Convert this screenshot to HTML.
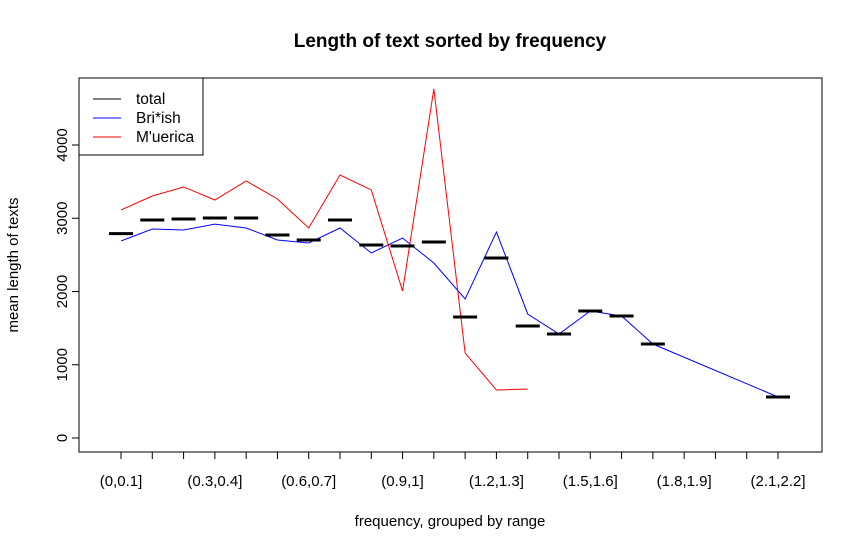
<!DOCTYPE html>
<html><head><meta charset="utf-8"><style>
body{margin:0;background:#fff;}
svg{display:block;font-family:"Liberation Sans",Arial,sans-serif;}
</style></head><body>
<svg id="chart" width="862" height="550" viewBox="0 0 862 550" xmlns="http://www.w3.org/2000/svg">
<rect width="862" height="550" fill="#fff"/>
<text x="450" y="47" text-anchor="middle" font-size="19" font-weight="bold">Length of text sorted by frequency</text>
<rect x="79" y="78" width="743" height="374" fill="none" stroke="#000" stroke-width="1"/>
<text x="450" y="526" text-anchor="middle" font-size="15">frequency, grouped by range</text>
<text transform="translate(18,265) rotate(-90)" text-anchor="middle" font-size="15">mean length of texts</text>
<g id="axes"></g>
<g id="marks"></g>
<g>
<rect x="79" y="78" width="124" height="77" fill="#fff" stroke="#000"/>
<line x1="93" y1="99" x2="121" y2="99" stroke="#000"/>
<text x="136" y="104" font-size="15.5">total</text>
<line x1="93" y1="118" x2="121" y2="118" stroke="#0000ff"/>
<text x="136" y="123" font-size="15.5">Bri*ish</text>
<line x1="93" y1="137" x2="121" y2="137" stroke="#ff0000"/>
<text x="136" y="142" font-size="15.5">M'uerica</text>
</g>
</svg>
<script>
const categories=["(0,0.1]","(0.1,0.2]","(0.2,0.3]","(0.3,0.4]","(0.4,0.5]","(0.5,0.6]","(0.6,0.7]","(0.7,0.8]","(0.8,0.9]","(0.9,1]","(1,1.1]","(1.1,1.2]","(1.2,1.3]","(1.3,1.4]","(1.4,1.5]","(1.5,1.6]","(1.6,1.7]","(1.7,1.8]","(1.8,1.9]","(1.9,2]","(2,2.1]","(2.1,2.2]"];
const totalVals=[2790,2976,2990,3003,3003,2771,2703,2976,2635,2621,2676,1652,2457,1529,1420,1734,1666,1283,null,null,null,560];
const britishVals=[2690,2853,2840,2920,2867,2703,2662,2867,2526,2730,2389,1898,2812,1693,1420,1734,1666,1283,null,null,null,560];
const americanVals=[3113,3304,3427,3249,3509,3263,2867,3590,3386,2007,4765,1160,655,669,null,null,null,null,null,null,null,null];
const yTicks=[0,1000,2000,3000,4000];
const NS="http://www.w3.org/2000/svg";
function xs(i){return 121+i*(778-121)/21;}
function ys(v){return 438-v*(438-145)/4000;}
const axes=document.getElementById('axes'),marks=document.getElementById('marks');
function mk(tag,attrs,parent){const e=document.createElementNS(NS,tag);for(const k in attrs)e.setAttribute(k,attrs[k]);parent.appendChild(e);return e;}
mk('line',{x1:xs(0),y1:452,x2:xs(21),y2:452,stroke:'#000'},axes);
categories.forEach((c,i)=>{
  const t=mk('line',{x1:xs(i),y1:452,x2:xs(i),y2:459,stroke:'#000'},axes);
  
  
  if(i%3===0){
    const l=mk('text',{x:xs(i),y:486,'text-anchor':'middle','font-size':15},axes);
    
    
    l.textContent=c;
  }
});
mk('line',{x1:79,y1:ys(0),x2:79,y2:ys(4000),stroke:'#000'},axes);
yTicks.forEach(v=>{
  const t=mk('line',{x1:72,y1:ys(v),x2:79,y2:ys(v),stroke:'#000'},axes);
  
  
  const l=mk('text',{transform:`translate(67,${ys(v)}) rotate(-90)`,'text-anchor':'middle','font-size':15},axes);
  
  
  l.textContent=v;
});
function line(vals,color,name){
  const pts=[];vals.forEach((v,i)=>{if(v!==null)pts.push(xs(i)+','+ys(v));});
  const p=mk('polyline',{points:pts.join(' '),fill:'none',stroke:color,'stroke-width':1},marks);
  
  
}
line(britishVals,'#0000ff','british-line');
line(americanVals,'#ff0000','american-line');
totalVals.forEach((v,i)=>{
  if(v===null)return;
  const s=mk('line',{x1:xs(i)-12,y1:ys(v),x2:xs(i)+12,y2:ys(v),stroke:'#000','stroke-width':3},marks);
  
  
});
</script>
</body></html>
